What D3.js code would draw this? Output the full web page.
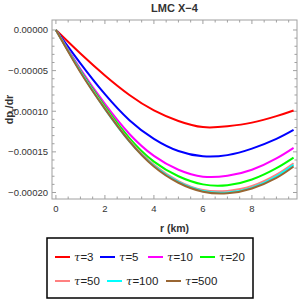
<!DOCTYPE html>
<html>
<head>
<meta charset="utf-8">
<script src="https://cdnjs.cloudflare.com/ajax/libs/d3/7.8.5/d3.min.js"></script>
<style>
  body { margin: 0; background: #fff; }
  svg { font-family: "Liberation Sans", Arial, sans-serif; }
</style>
</head>
<body>
<div id="chart"></div>
<script>
var rVals = [0, 1, 2, 3, 4, 5, 6, 7, 8, 9, 9.7];

var tau3   = [0, -0.000029, -0.000056, -0.000080, -0.000099, -0.000112, -0.0001195, -0.0001185, -0.000114, -0.000106, -0.000099];
var tau5   = [0, -0.000041, -0.000079, -0.000111, -0.000134, -0.000149, -0.0001555, -0.000154, -0.000146, -0.000134, -0.000123];
var tau10  = [0, -0.000048, -0.000091, -0.000128, -0.000155, -0.000172, -0.0001805, -0.0001795, -0.000172, -0.000158, -0.000145];
var tau20  = [0, -0.000050, -0.000094, -0.000133, -0.000162, -0.000180, -0.000190, -0.000191, -0.000184, -0.000170, -0.000157];
var tau50  = [0, -0.000051, -0.000096, -0.000136, -0.000166, -0.000186, -0.000197, -0.000198, -0.000192, -0.000178, -0.000164];
var tau100 = [0, -0.000051, -0.000097, -0.000137, -0.000167, -0.000187, -0.000198, -0.000200, -0.000194, -0.000180, -0.000166];
var tau500 = [0, -0.000052, -0.000097, -0.000137, -0.000168, -0.000188, -0.000199, -0.000201, -0.000195, -0.000182, -0.000168];

var seriesNames = ["τ=3", "τ=5", "τ=10", "τ=20", "τ=50", "τ=100", "τ=500"];
var seriesColors = ["#ff0000", "#0000ff", "#ff00ff", "#00ff00", "#ff8080", "#00ffff", "#996633"];
var seriesData = [tau3, tau5, tau10, tau20, tau50, tau100, tau500];

var xTicks = [0, 2, 4, 6, 8];
var yTicks = [0, -0.00005, -0.0001, -0.00015, -0.0002];

var width = 300, height = 300;
var pLeft = 52, pRight = 297, pTop = 20, pBottom = 199;

var svg = d3.select("#chart").append("svg")
    .attr("width", width)
    .attr("height", height);

var x = d3.scaleLinear().domain([-0.16, 9.84]).range([pLeft, pRight]);
var y = d3.scaleLinear().domain([-0.000208, 0.0000123]).range([pBottom, pTop]);

// frame
svg.append("rect")
    .attr("x", pLeft).attr("y", pTop)
    .attr("width", pRight - pLeft).attr("height", pBottom - pTop)
    .attr("fill", "none").attr("stroke", "#a0a0a0").attr("stroke-width", 1);

var tickColor = "#a0a0a0";
// x ticks, minor every 0.5
var xMinor = d3.range(0, 9.8, 0.5);
xMinor.forEach(function (t) {
    var major = Math.abs(t % 2) < 1e-9;
    var len = major ? 4 : 2.5;
    svg.append("line").attr("x1", x(t)).attr("x2", x(t))
        .attr("y1", pBottom).attr("y2", pBottom - len).attr("stroke", tickColor);
    svg.append("line").attr("x1", x(t)).attr("x2", x(t))
        .attr("y1", pTop).attr("y2", pTop + len).attr("stroke", tickColor);
});
// y ticks, minor every 0.00001
var yMinor = d3.range(0, 21).map(function (i) { return -i * 0.00001; });
yMinor.forEach(function (t, i) {
    var major = i % 5 === 0;
    var len = major ? 4 : 2.5;
    svg.append("line").attr("x1", pLeft).attr("x2", pLeft + len)
        .attr("y1", y(t)).attr("y2", y(t)).attr("stroke", tickColor);
    svg.append("line").attr("x1", pRight).attr("x2", pRight - len)
        .attr("y1", y(t)).attr("y2", y(t)).attr("stroke", tickColor);
});

svg.selectAll(".xlab").data(xTicks).enter().append("text")
    .attr("class", "xlab")
    .attr("x", function (d) { return x(d); })
    .attr("y", pBottom + 13)
    .attr("text-anchor", "middle")
    .attr("font-size", 9.5)
    .attr("fill", "#333")
    .text(function (d) { return d; });

svg.selectAll(".ylab").data(yTicks).enter().append("text")
    .attr("class", "ylab")
    .attr("x", pLeft - 4)
    .attr("y", function (d) { return y(d) + 3.5; })
    .attr("text-anchor", "end")
    .attr("font-size", 9.5)
    .attr("fill", "#333")
    .text(function (d) { return (d < 0 ? "\u2212" : "") + Math.abs(d).toFixed(5); });

// curves
var line = d3.line()
    .x(function (d) { return x(d[0]); })
    .y(function (d) { return y(d[1]); })
    .curve(d3.curveNatural);

seriesData.forEach(function (s, i) {
    var pts = rVals.map(function (r, j) { return [r, s[j]]; });
    svg.append("path")
        .attr("d", line(pts))
        .attr("fill", "none")
        .attr("stroke", seriesColors[i])
        .attr("stroke-width", 2);
});

// title and axis labels
svg.append("text")
    .attr("x", (pLeft + pRight) / 2).attr("y", 12)
    .attr("text-anchor", "middle")
    .attr("font-size", 11).attr("font-weight", "bold")
    .attr("fill", "#333")
    .text("LMC X\u22124");

svg.append("text")
    .attr("x", (pLeft + pRight) / 2).attr("y", 232)
    .attr("text-anchor", "middle")
    .attr("font-size", 10.5).attr("font-weight", "bold")
    .attr("fill", "#333")
    .text("r (km)");

var ylab = svg.append("text")
    .attr("transform", "translate(13," + ((pTop + pBottom) / 2) + ") rotate(-90)")
    .attr("text-anchor", "middle")
    .attr("font-size", 10.5).attr("font-weight", "bold")
    .attr("fill", "#333");
ylab.append("tspan").text("dp");
ylab.append("tspan").attr("font-size", 8).attr("dy", 3).text("r");
ylab.append("tspan").attr("dy", -3).text("/dr");

// legend
svg.append("rect")
    .attr("x", 47).attr("y", 238)
    .attr("width", 206).attr("height", 60)
    .attr("fill", "#fff").attr("stroke", "#000").attr("stroke-width", 1.5);

var legendPos = [
    [55, 257], [100, 257], [148, 257], [200, 257],
    [55, 281], [107, 281], [166, 281]
];
seriesNames.forEach(function (name, i) {
    var p = legendPos[i];
    svg.append("line")
        .attr("x1", p[0]).attr("x2", p[0] + 15)
        .attr("y1", p[1]).attr("y2", p[1])
        .attr("stroke", seriesColors[i]).attr("stroke-width", 2);
    var t = svg.append("text")
        .attr("x", p[0] + 19).attr("y", p[1] + 4)
        .attr("font-size", 11.5)
        .attr("fill", "#222");
    t.append("tspan").attr("font-family", "DejaVu Serif").attr("font-style", "italic").text(name.slice(0, 1));
    t.append("tspan").text(name.slice(1));
});
</script>
</body>
</html>
